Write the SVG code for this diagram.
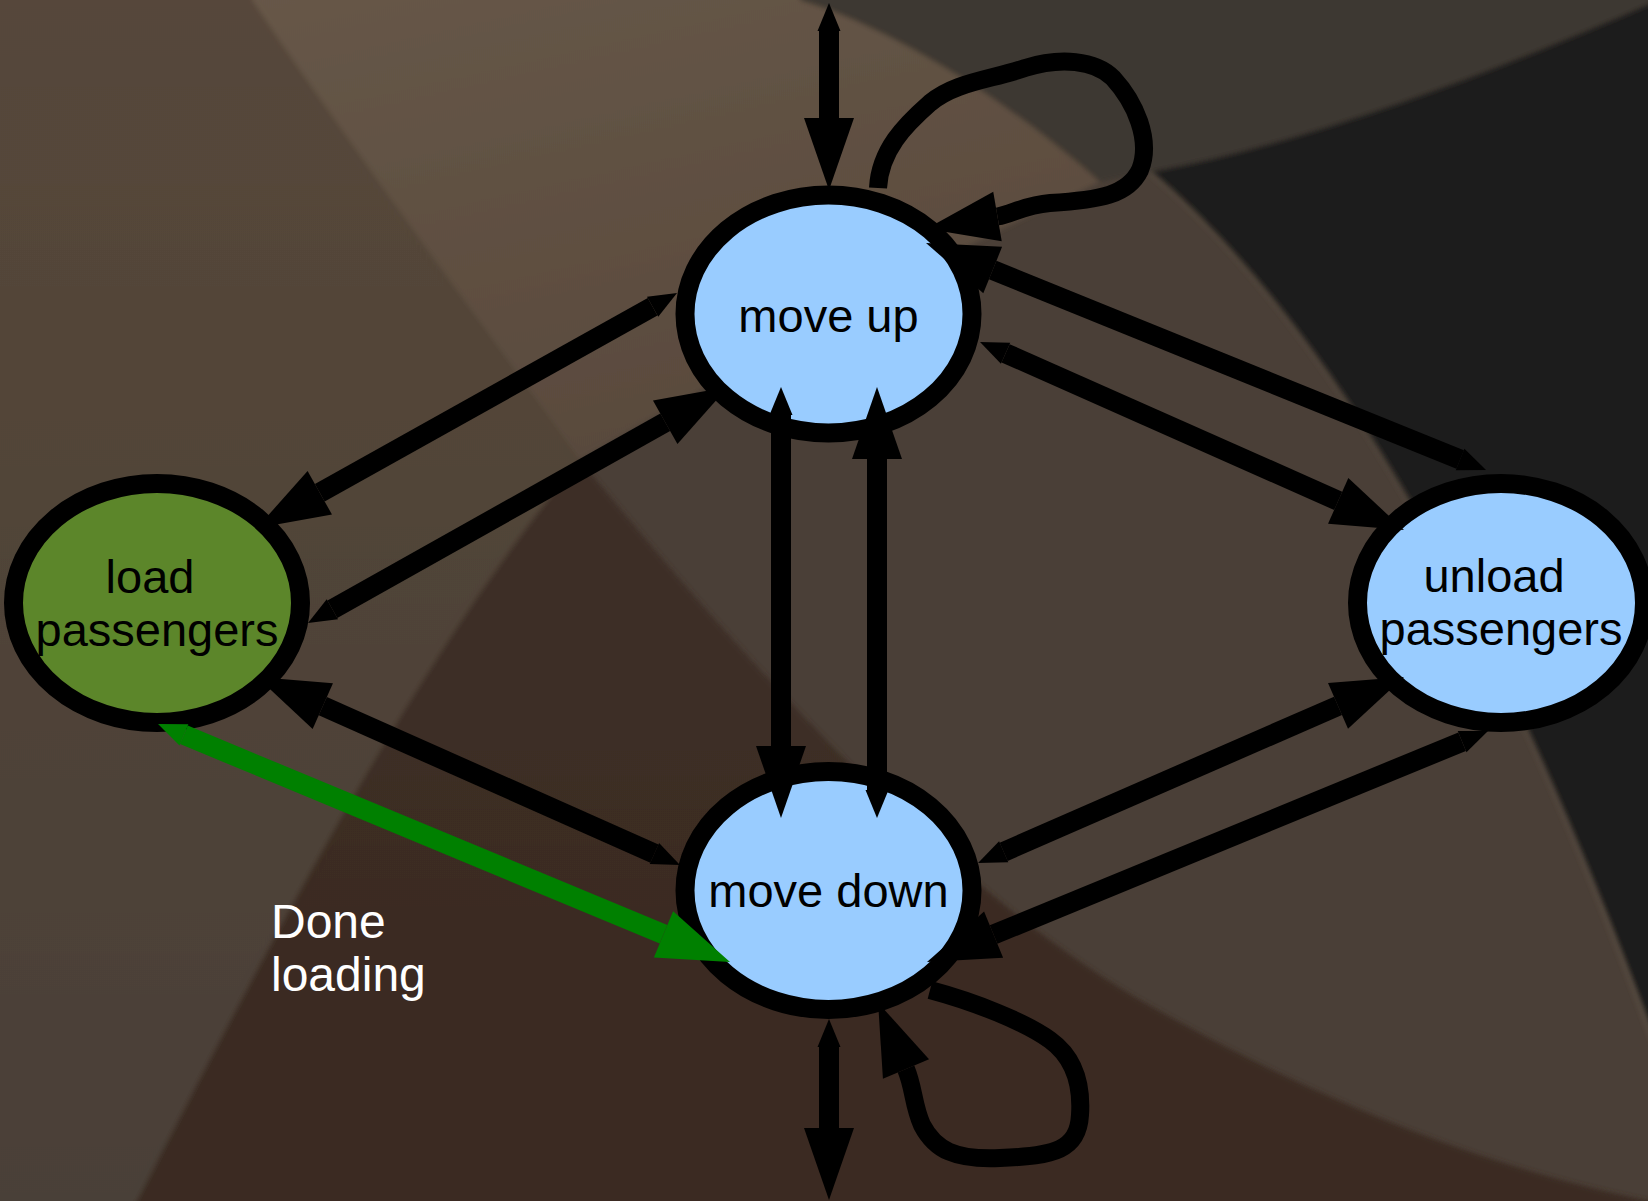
<svg xmlns="http://www.w3.org/2000/svg" width="1648" height="1201" viewBox="0 0 1648 1201">
  <defs>
    <style>
      .node { stroke: #000; stroke-width: 19; }
      .blue { fill: #99ccff; }
      .green { fill: #5c862a; }
      .label { font-family: "Liberation Sans", Arial, sans-serif; font-size: 47px; fill: #000; text-anchor: middle; }
      .note { font-family: "Liberation Sans", Arial, sans-serif; font-size: 48px; fill: #fff; }
      .edge { fill: none; stroke: #000; stroke-width: 20; marker-start: url(#tail); marker-end: url(#head); }
      .edge.go { stroke: #008000; marker-start: url(#tailG); marker-end: url(#headG); }
      .loop { fill: none; stroke: #000; stroke-width: 18; marker-end: url(#head); }
    </style>
    <marker id="head" markerUnits="userSpaceOnUse" orient="auto" viewBox="0 -25 72 50" refX="0" refY="0" markerWidth="72" markerHeight="50" overflow="visible">
      <path d="M0,-25 L72,0 L0,25 Z" fill="#000"/>
    </marker>
    <marker id="tail" markerUnits="userSpaceOnUse" orient="auto-start-reverse" viewBox="0 -12 28 24" refX="0" refY="0" markerWidth="28" markerHeight="24" overflow="visible">
      <path d="M0,-11.5 L28,0 L0,11.5 Z" fill="#000"/>
    </marker>
    <marker id="headG" markerUnits="userSpaceOnUse" orient="auto" viewBox="0 -25 72 50" refX="0" refY="0" markerWidth="72" markerHeight="50" overflow="visible">
      <path d="M0,-25 L72,0 L0,25 Z" fill="#008000"/>
    </marker>
    <marker id="tailG" markerUnits="userSpaceOnUse" orient="auto-start-reverse" viewBox="0 -12 28 24" refX="0" refY="0" markerWidth="28" markerHeight="24" overflow="visible">
      <path d="M0,-11.5 L28,0 L0,11.5 Z" fill="#008000"/>
    </marker>
    <linearGradient id="leftShade" x1="0" y1="0" x2="0" y2="1">
      <stop offset="0" stop-color="#56473a"/>
      <stop offset="1" stop-color="#4a4037"/>
    </linearGradient>
    <linearGradient id="bandShade" x1="0" y1="0" x2="0.4" y2="1">
      <stop offset="0" stop-color="#675748"/>
      <stop offset="1" stop-color="#594a3d"/>
    </linearGradient>
    <linearGradient id="lowShade" x1="0" y1="0" x2="0" y2="1">
      <stop offset="0" stop-color="#3d2f27"/>
      <stop offset="1" stop-color="#3a2a21"/>
    </linearGradient>
    <filter id="soft" x="-5%" y="-5%" width="110%" height="110%">
      <feGaussianBlur stdDeviation="2.5"/>
    </filter>
  </defs>

  <!-- backdrop -->
  <rect x="0" y="0" width="1648" height="1201" fill="#4a3f37"/>
  <g id="backdrop" filter="url(#soft)">
    <path d="M-20,-20 L252,-20 L252,0 C360,160 480,320 580,460 C420,650 260,960 137,1201 L137,1220 L-20,1220 Z" fill="url(#leftShade)"/>
    <path d="M252,-20 L800,-20 L800,0 C900,30 1020,110 1100,182 C950,250 750,360 580,460 C480,320 360,160 252,0 Z" fill="url(#bandShade)"/>
    <path d="M800,-20 L1670,-20 L1670,0 C1500,70 1314,142 1150,172 L1100,182 C1020,110 900,30 800,0 Z" fill="#3e3730"/>
    <path d="M1150,172 C1314,142 1500,70 1670,-5 L1670,1080 C1480,560 1300,300 1150,172 Z" fill="#1d1c1a"/>
    <path d="M1150,172 C1300,300 1480,560 1660,1060" fill="none" stroke="#6a5d50" stroke-opacity="0.45" stroke-width="4"/>
    <path d="M137,1201 C260,960 420,650 580,460 C760,680 960,900 1156,1009 C1300,1090 1480,1170 1670,1205 L1670,1225 L120,1225 Z" fill="url(#lowShade)"/>
  </g>

  <!-- states -->
  <g id="move-up">
    <ellipse class="node blue" cx="828.5" cy="314" rx="143.5" ry="119"/>
    <text class="label" x="828.5" y="332">move up</text>
  </g>
  <g id="move-down">
    <ellipse class="node blue" cx="828.5" cy="890.5" rx="143.5" ry="119"/>
    <text class="label" x="828.5" y="907">move down</text>
  </g>
  <g id="load-passengers">
    <ellipse class="node green" cx="157" cy="603" rx="143.5" ry="119.5"/>
    <text class="label" x="150" y="593">load</text>
    <text class="label" x="157" y="646">passengers</text>
  </g>
  <g id="unload-passengers">
    <ellipse class="node blue" cx="1501" cy="603" rx="143.5" ry="119.5"/>
    <text class="label" x="1494" y="592">unload</text>
    <text class="label" x="1501" y="645">passengers</text>
  </g>

  <!-- transitions -->
  <g id="connectors">
    <line class="edge" x1="829" y1="31" x2="829" y2="118"/>
    <line class="edge" x1="829" y1="1047" x2="829" y2="1128"/>
    <line class="edge" x1="781" y1="415" x2="781" y2="746"/>
    <line class="edge" x1="877" y1="790" x2="877" y2="459"/>
    <line class="edge" x1="652.6" y1="306.7" x2="319.8" y2="492.8"/>
    <line class="edge" x1="332.4" y1="609.3" x2="665.2" y2="422.3"/>
    <line class="edge" x1="1005.6" y1="353.3" x2="1338.2" y2="500.8"/>
    <line class="edge" x1="1460.1" y1="459.5" x2="992.7" y2="270"/>
    <line class="edge" x1="654.4" y1="853.6" x2="322.8" y2="706.2"/>
    <line class="edge" x1="1003.7" y1="851.8" x2="1338" y2="705.8"/>
    <line class="edge" x1="1462.1" y1="741.7" x2="993.6" y2="934.6"/>
    <line class="edge go" x1="183.9" y1="734.8" x2="663.5" y2="934.3"/>
    <path class="loop" d="M878,188 C880,150 905,125 930,103 C955,82 990,80 1025,68 C1060,57 1095,60 1113,78 C1135,102 1152,140 1140,170 C1128,195 1100,200 1050,203 C1025,205 1012,214 997.5,216.5"/>
    <path class="loop" d="M930,990 C975,1002 1025,1022 1050,1040 C1075,1058 1082,1085 1080,1115 C1078,1150 1055,1156 1000,1158 C955,1160 935,1150 922,1125 C913,1105 914,1088 906,1069"/>
  </g>

  <g id="note">
    <text class="note" x="271" y="938">Done</text>
    <text class="note" x="271" y="991">loading</text>
  </g>
</svg>
